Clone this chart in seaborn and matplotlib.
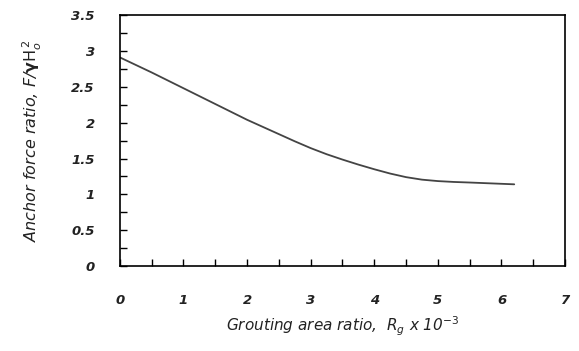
import matplotlib
matplotlib.use("Agg")
import matplotlib.pyplot as plt
import seaborn as sns
import pandas as pd
from matplotlib.ticker import MultipleLocator

grouting_ratio = [0.0, 0.5, 1.0, 1.5, 2.0, 2.5, 2.75, 3.0, 3.25, 3.5, 3.75, 4.0,
                  4.25, 4.5, 4.75, 5.0, 5.25, 5.5, 6.2]
anchor_force = [2.91, 2.70, 2.48, 2.26, 2.04, 1.84, 1.74, 1.645, 1.56, 1.485, 1.415, 1.35,
                1.29, 1.24, 1.205, 1.185, 1.173, 1.165, 1.14]
x_ticks = [0, 1, 2, 3, 4, 5, 6, 7]
y_ticks = [0, 0.5, 1, 1.5, 2, 2.5, 3, 3.5]
y_tick_labels = ["0", "0.5", "1", "1.5", "2", "2.5", "3", "3.5"]

sns.set_style("white")
plt.rcParams['font.family'] = ['DejaVu Sans']

df = pd.DataFrame({"x": grouting_ratio, "y": anchor_force})

fig = plt.figure(figsize=(5.79, 3.51), dpi=100)
ax = fig.add_axes([0.207, 0.242, 0.769, 0.715])
sns.lineplot(data=df, x="x", y="y", ax=ax, color="#444444", linewidth=1.3)

ax.set_xlim(0, 7)
ax.set_ylim(0, 3.5)
ax.set_xticks(x_ticks)
ax.set_yticks(y_ticks)
ax.set_yticklabels(y_tick_labels)
ax.xaxis.set_minor_locator(MultipleLocator(0.5))
ax.yaxis.set_minor_locator(MultipleLocator(0.25))
ax.tick_params(axis="both", which="both", direction="in", length=5, width=1,
               color="black", top=False, right=False, left=True, bottom=True)
ax.tick_params(axis="x", which="major", pad=20, labelsize=9.5)
ax.tick_params(axis="y", which="major", pad=18, labelsize=9.5)
for lab in ax.get_xticklabels() + ax.get_yticklabels():
    lab.set_fontstyle("italic")
    lab.set_fontweight("bold")
    lab.set_color("#222222")

for s in ax.spines.values():
    s.set_visible(True)
    s.set_color("black")
    s.set_linewidth(1.2)

ax.set_xlabel(r"Grouting area ratio,  $\it{R_g}$ x 10$^{-3}$", fontsize=11,
              fontstyle="italic", labelpad=6, color="#222222")
ax.set_ylabel(r"Anchor force ratio, F/$\mathbf{\gamma}\mathrm{H}_o^{\,2}$", fontsize=11.5,
              fontstyle="italic", labelpad=20, color="#222222")

fig.savefig("out.png", dpi=100, facecolor="white")
